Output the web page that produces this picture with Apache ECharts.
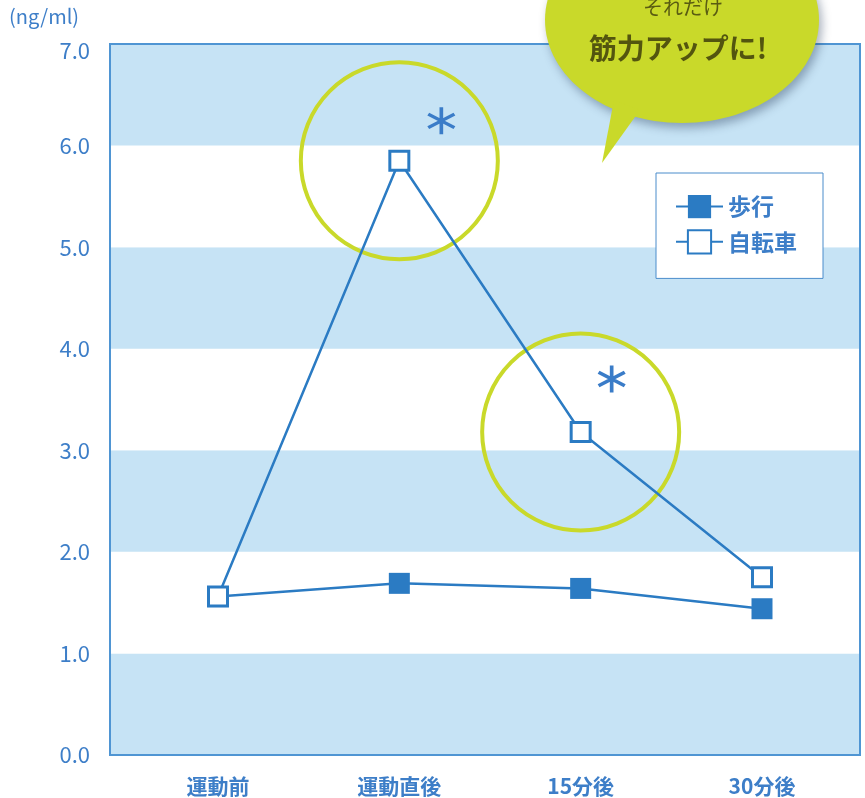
<!DOCTYPE html>
<html>
<head>
<meta charset="utf-8">
<script src="https://cdn.jsdelivr.net/npm/echarts@6/dist/echarts.min.js"></script>
<style>
  html, body { margin: 0; padding: 0; background: #ffffff; }
  #chart { width: 865px; height: 798px; }
</style>
</head>
<body>
<div id="chart"></div>
<script>
// Timing of measurement
const categories = ['運動前', '運動直後', '15分後', '30分後'];
// Concentration (ng/ml)
const walking = [1.56, 1.69, 1.64, 1.44];
const cycling = [1.56, 5.85, 3.18, 1.75];
// Points with a significant difference (marked with a ring and an asterisk)
const significant = [1, 2];
// Value axis
const yMin = 0;
const yMax = 7;
const yStep = 1;

const FONT = 'Noto Sans CJK JP';
const BLUE = '#2b7bc3';
const TEXT_BLUE = '#3d7ec8';
const LIME = '#c9d92a';

const asteriskPath = 'path://M-1.7,-14L1.7,-14L1.7,14L-1.7,14Z' +
  'M11.27,-8.47L12.97,-5.53L-11.27,8.47L-12.97,5.53Z' +
  'M12.97,5.53L11.27,8.47L-12.97,-5.53L-11.27,-8.47Z';

const starOffsets = [[42, -40], [31, -53]];

const markData = [];
significant.forEach((idx, k) => {
  markData.push({
    coord: [categories[idx], cycling[idx]],
    symbol: 'circle',
    symbolSize: 197,
    itemStyle: { color: 'rgba(0,0,0,0)', borderColor: LIME, borderWidth: 4 },
    label: { show: false }
  });
  markData.push({
    coord: [categories[idx], cycling[idx]],
    symbol: asteriskPath,
    symbolSize: [28, 27],
    symbolOffset: starOffsets[k],
    itemStyle: { color: '#3a7cc8', borderWidth: 0 },
    label: { show: false }
  });
});

const chart = echarts.init(document.getElementById('chart'), null, { renderer: 'canvas' });

chart.setOption({
  animation: false,
  textStyle: { fontFamily: FONT },
  grid: [
    // framed plotting area with the banded background
    { left: 110, right: 5, top: 44, bottom: 43, show: true, borderColor: '#4f95d3', borderWidth: 2, backgroundColor: 'transparent', z: 3 },
    // area where the categories are placed
    { left: 218, right: 103, top: 44, bottom: 43 }
  ],
  xAxis: [
    { gridIndex: 0, type: 'value', min: 0, max: 1, show: false },
    {
      gridIndex: 1, type: 'category', data: categories, boundaryGap: false,
      axisLine: { show: false }, axisTick: { show: false }, splitLine: { show: false },
      axisLabel: { color: TEXT_BLUE, fontSize: 21, fontWeight: 'bold', margin: 21, fontFamily: FONT }
    }
  ],
  yAxis: [
    {
      gridIndex: 0, type: 'value', min: yMin, max: yMax, interval: yStep,
      axisLine: { show: false }, axisTick: { show: false }, splitLine: { show: false },
      splitArea: { show: true, areaStyle: { color: ['#c6e3f5', '#ffffff'] } },
      axisLabel: {
        color: TEXT_BLUE, fontSize: 22, margin: 20, fontFamily: FONT,
        formatter: v => (v === yMax ? '{top|' + v.toFixed(1) + '}' : v.toFixed(1)),
        rich: { top: { color: TEXT_BLUE, fontSize: 22, fontFamily: FONT, padding: [14, 0, 0, 0] } }
      }
    },
    { gridIndex: 1, type: 'value', min: yMin, max: yMax, interval: yStep, show: false }
  ],
  legend: {
    orient: 'vertical', left: 656, top: 173,
    backgroundColor: '#ffffff', borderColor: '#4a8ccb', borderWidth: 1,
    padding: [22, 26, 24, 19], itemGap: 11, itemWidth: 47, itemHeight: 29,
    textStyle: { color: TEXT_BLUE, fontSize: 23, fontWeight: 'bold', fontFamily: FONT },
    data: ['歩行', '自転車']
  },
  series: [
    {
      name: '歩行', type: 'line', xAxisIndex: 1, yAxisIndex: 1, data: walking,
      symbol: 'rect', symbolSize: 21,
      lineStyle: { color: BLUE, width: 2.5 },
      itemStyle: { color: BLUE },
      z: 5
    },
    {
      name: '自転車', type: 'line', xAxisIndex: 1, yAxisIndex: 1, data: cycling,
      symbol: 'rect', symbolSize: 19,
      lineStyle: { color: BLUE, width: 2.5 },
      itemStyle: { color: '#ffffff', borderColor: BLUE, borderWidth: 3 },
      z: 6,
      markPoint: { data: markData, silent: true, z: 4 }
    }
  ],
  graphic: [
    { type: 'text', left: 9, top: 6, style: { text: '(ng/ml)', fill: TEXT_BLUE, font: '20px "' + FONT + '"' } },
    // speech bubble
    {
      type: 'ellipse', shape: { cx: 682, cy: 20, rx: 137, ry: 103 }, z: 20,
      style: { fill: LIME, shadowBlur: 10, shadowColor: 'rgba(40,60,90,0.4)', shadowOffsetX: 3, shadowOffsetY: 5 }
    },
    {
      type: 'polygon', shape: { points: [[614, 100], [640, 110], [602, 163]] }, z: 21,
      style: { fill: LIME }
    },
    {
      type: 'text', z: 22, x: 683, y: 7,
      style: { text: 'それだけ', fill: '#5a5c12', font: '20px "' + FONT + '"', align: 'center', verticalAlign: 'middle' }
    },
    {
      type: 'text', z: 22, x: 678, y: 48,
      style: { text: '筋力アップに!', fill: '#53550f', font: 'bold 28px "' + FONT + '"', align: 'center', verticalAlign: 'middle' }
    }
  ]
});
</script>
</body>
</html>
